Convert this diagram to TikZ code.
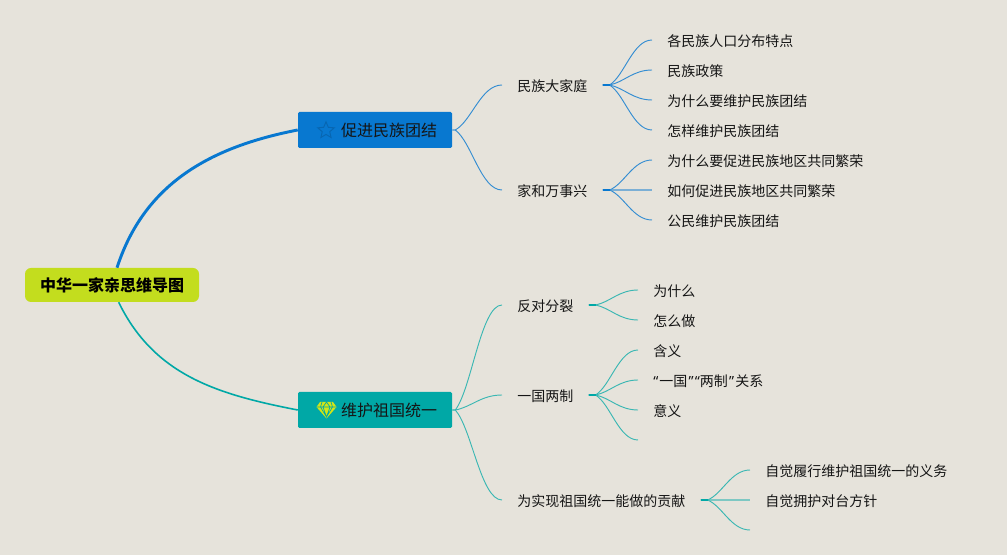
\documentclass[tikz,border=0pt]{standalone}
\usepackage{fontspec}
\setmainfont{Noto Sans CJK SC}
\newfontfamily\quotefont{Noto Sans}
\usetikzlibrary{shapes.geometric,positioning,calc}
\definecolor{paper}{HTML}{E6E3DB}
\definecolor{bluetopic}{HTML}{0878D0}
\definecolor{tealtopic}{HTML}{00A8A6}
\definecolor{rootgreen}{HTML}{C3DD1E}
\definecolor{inktext}{HTML}{151515}

\begin{document}
\begin{tikzpicture}[
    x=0.75pt, y=0.75pt,
    rootbox/.style={fill=rootgreen, rounded corners=4.5pt, minimum width=130.5pt, minimum height=25.5pt, inner sep=0pt, text=black, font=\fontsize{12pt}{14pt}\selectfont\bfseries},
    topicbox/.style={rounded corners=1pt, minimum width=115.5pt, minimum height=27pt, inner sep=0pt, text=inktext, font=\fontsize{12pt}{14pt}\selectfont},
    subbox/.style={anchor=west, inner xsep=11.25pt, inner ysep=2pt, text height=11pt, text depth=1pt, text=inktext, font=\fontsize{10.5pt}{12pt}\selectfont},
    branch/.style={to path={let \p1=(\tikztostart), \p2=(\tikztotarget) in .. controls (\x1+0.35*\x2-0.35*\x1,\y1+0.2*\y2-0.2*\y1) and (\x1+0.55*\x2-0.55*\x1,\y2) .. (\p2)}},
    bluelink/.style={branch, draw=bluetopic!80!paper, line width=0.7pt},
    teallink/.style={branch, draw=tealtopic!75!paper, line width=0.7pt},
    midlink/.style={line width=1.2pt, draw opacity=0.6},
    bluestub/.style={draw=bluetopic, line width=1.5pt},
    tealstub/.style={draw=tealtopic, line width=1.5pt}
]
\useasboundingbox (0,-555) rectangle (1007,0);
\fill[paper] (0,-555) rectangle (1007,0);

% Root
\node[rootbox] (root) at (112,-285) {中华一家亲思维导图};

% Main topics
\node[topicbox, fill=bluetopic] (unity) at (375,-130) {\hspace*{21pt}促进民族团结};
\node[topicbox, fill=tealtopic] (nation) at (375,-410) {\hspace*{21pt}维护祖国统一};

% Topic icons
\node[star, star points=5, star point ratio=2.2, draw=bluetopic!85!black, line width=0.7pt, inner sep=0pt, minimum size=13pt] (staricon) at (326,-130.5) {};
\fill[rootgreen!75!yellow] (320,-402) -- (333,-402) -- (336.5,-407) -- (326.5,-418.5) -- (316.5,-407) -- cycle;
\draw[tealtopic, line width=0.5pt] (317,-407) -- (336,-407) (322,-402) -- (320.5,-407) -- (326.5,-417) -- (332.5,-407) -- (331,-402) (326.5,-402) -- (323,-407) -- (326.5,-417) -- (330,-407) -- cycle;

% Blue branch
\node[subbox] (family) at (502,-85) {民族大家庭};
\node[subbox] (home) at (502,-190) {家和万事兴};
\node[subbox] (spread) at (652,-40) {各民族人口分布特点};
\node[subbox] (policy) at (652,-70) {民族政策};
\node[subbox] (whykeep) at (652,-100) {为什么要维护民族团结};
\node[subbox] (howkeep) at (652,-130) {怎样维护民族团结};
\node[subbox] (whygrow) at (652,-160) {为什么要促进民族地区共同繁荣};
\node[subbox] (howgrow) at (652,-190) {如何促进民族地区共同繁荣};
\node[subbox] (citizen) at (652,-220) {公民维护民族团结};

% Teal branch
\node[subbox] (oppose) at (502,-305) {反对分裂};
\node[subbox] (twosys) at (502,-395) {一国两制};
\node[subbox] (effort) at (502,-500) {为实现祖国统一能做的贡献};
\node[subbox] (why) at (638,-290) {为什么};
\node[subbox] (how) at (638,-320) {怎么做};
\node[subbox] (meaning) at (638,-350) {含义};
\node[subbox] (relation) at (638,-380) {{\quotefont “}\kern0.9pt一国\kern0.9pt{\quotefont ”}\kern0.9pt{\quotefont “}两制\kern0.9pt{\quotefont ”}\kern0.9pt关系};
\node[subbox] (value) at (638,-410) {意义};
\coordinate (twoend) at (638,-440);
\node[subbox] (duty) at (750,-470) {自觉履行维护祖国统一的义务};
\node[subbox] (policysup) at (750,-500) {自觉拥护对台方针};
\coordinate (effortend) at (750,-530);

% Root links
\draw[draw=bluetopic, line width=2.2pt] ([xshift=3.75pt]root.north) to[out=72, in=191] (unity.west);
\draw[draw=tealtopic, line width=1.2pt] ([xshift=5pt]root.south) to[out=-64, in=169] (nation.west);

% Blue links
\draw[bluelink] (unity.east) -- ++(3,0) to (family.west);
\draw[bluelink] (unity.east) -- ++(3,0) to (home.west);
\draw[bluelink] (family.east) -- ++(7,0) to (spread.west);
\draw[bluelink] (family.east) -- ++(7,0) to (policy.west);
\draw[bluelink] (family.east) -- ++(7,0) to (whykeep.west);
\draw[bluelink] (family.east) -- ++(7,0) to (howkeep.west);
\draw[bluelink] (home.east) -- ++(7,0) to (whygrow.west);
\draw[bluelink, midlink] (home.east) -- ++(7,0) to (howgrow.west);
\draw[bluelink] (home.east) -- ++(7,0) to (citizen.west);
\draw[bluestub] (family.east) -- ++(7,0);
\draw[bluestub] (home.east) -- ++(7,0);

% Teal links
\draw[teallink] (nation.east) -- ++(3,0) to (oppose.west);
\draw[teallink] (nation.east) -- ++(3,0) to (twosys.west);
\draw[teallink] (nation.east) -- ++(3,0) to (effort.west);
\draw[teallink] (oppose.east) -- ++(7,0) to (why.west);
\draw[teallink] (oppose.east) -- ++(7,0) to (how.west);
\draw[teallink] (twosys.east) -- ++(7,0) to (meaning.west);
\draw[teallink] (twosys.east) -- ++(7,0) to (relation.west);
\draw[teallink] (twosys.east) -- ++(7,0) to (value.west);
\draw[teallink] (twosys.east) -- ++(7,0) to (twoend);
\draw[teallink] (effort.east) -- ++(7,0) to (duty.west);
\draw[teallink, midlink] (effort.east) -- ++(7,0) to (policysup.west);
\draw[teallink] (effort.east) -- ++(7,0) to (effortend);
\draw[tealstub] (oppose.east) -- ++(7,0);
\draw[tealstub] (twosys.east) -- ++(7,0);
\draw[tealstub] (effort.east) -- ++(7,0);

\end{tikzpicture}
\end{document}
